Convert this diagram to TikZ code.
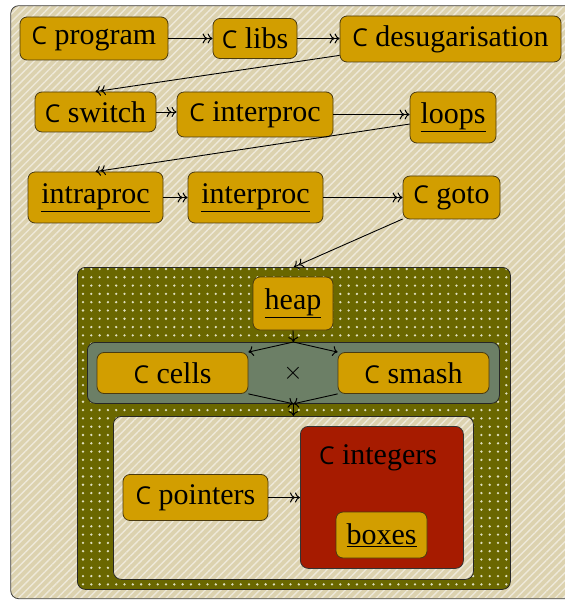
\documentclass[tikz,border=0pt]{standalone}
\usepackage{fontspec}
\setmainfont{Liberation Serif}
\newfontfamily\cfont{Open Sans}[Scale=0.82]
\usetikzlibrary{arrows.meta,patterns.meta}
\definecolor{tanbg}{HTML}{DCD2AF}
\definecolor{stripe}{HTML}{EEE9DA}
\definecolor{gold}{HTML}{D29E00}
\definecolor{goldedge}{HTML}{4A3A10}
\definecolor{olive}{HTML}{6A6700}
\definecolor{dotc}{HTML}{E0E0C0}
\definecolor{graygreen}{HTML}{6C7F66}
\definecolor{redbox}{HTML}{A61B00}
\newcommand{\Cmark}{{\cfont C}}
\tikzset{
  txt/.style={font=\fontsize{30}{34}\selectfont},
  gbox/.style={txt, draw=goldedge, fill=gold, line width=0.8pt, rounded corners=7pt, inner sep=0pt, align=center},
  stripes/.style={preaction={fill=tanbg}, pattern={Lines[angle=45,distance=5.5pt,line width=1.4pt]}, pattern color=stripe},
  dotsfill/.style={preaction={fill=olive}, pattern={Dots[distance=8.3pt,radius=1.3pt]}, pattern color=dotc},
  panel/.style={draw=black!85, line width=0.8pt, rounded corners=8pt, inner sep=0pt},
  tip/.tip={Computer Modern Rightarrow[length=5pt,width=10pt,line width=1pt]},
  conn/.style={draw=black, line width=0.9pt, -{tip}},
  dconn/.style={draw=black, line width=0.9pt, -{tip[]tip[]}},
}
\begin{document}
\begin{tikzpicture}[x=1pt,y=-1pt]
\useasboundingbox (0,0) rectangle (564,601);
% outer frame
\node[panel, stripes, draw=black!75, minimum width=575pt, minimum height=593pt, anchor=north west] (frame) at (10,5) {};
% row 1
\node[gbox, minimum width=148pt, minimum height=43pt] (prog) at (94,38.5) {\Cmark{} program};
\node[gbox, minimum width=84pt, minimum height=40pt] (libs) at (255,38.5) {\Cmark{} libs};
\node[gbox, minimum width=221pt, minimum height=46pt] (desug) at (450.5,39) {\Cmark{} desugarisation};
% row 2
\node[gbox, minimum width=121pt, minimum height=40pt] (switch) at (95.5,112) {\Cmark{} switch};
\node[gbox, minimum width=156pt, minimum height=45pt] (interA) at (255,114.5) {\Cmark{} interproc};
\node[gbox, minimum width=86pt, minimum height=51pt] (loops) at (453,117.5) {\underline{loops}};
% row 3
\node[gbox, minimum width=135pt, minimum height=51pt] (intra) at (95.5,197.5) {\underline{intraproc}};
\node[gbox, minimum width=135pt, minimum height=51pt] (interB) at (255.5,197.5) {\underline{interproc}};
\node[gbox, minimum width=97pt, minimum height=43pt] (goto) at (451.5,197.5) {\Cmark{} goto};
% big olive panel
\node[panel, dotsfill, minimum width=433pt, minimum height=322pt, anchor=north west] (heapbox) at (77,267) {};
\node[gbox, minimum width=80pt, minimum height=53pt] (heap) at (293,303.5) {\underline{heap}};
\node[panel, fill=graygreen, minimum width=412pt, minimum height=61pt, anchor=north west] (prod) at (87,342) {};
\node[gbox, minimum width=151pt, minimum height=41pt] (cells) at (172.5,373) {\Cmark{} cells};
\node[gbox, minimum width=151pt, minimum height=41pt] (smash) at (413.5,373) {\Cmark{} smash};
\node[txt] (times) at (293,373) {$\times$};
\node[panel, stripes, minimum width=360pt, minimum height=163pt, anchor=north west] (inner) at (113,416) {};
\node[gbox, minimum width=145pt, minimum height=46pt] (ptrs) at (195.5,497.5) {\Cmark{} pointers};
\node[panel, fill=redbox, draw=black!80, minimum width=163pt, minimum height=142pt, anchor=north west] (ints) at (300,426) {};
\node[txt] (intlabel) at (378,458) {\Cmark{} integers};
\node[gbox, minimum width=91pt, minimum height=46pt] (boxes) at (381.5,535) {\underline{boxes}};
% connectors
\draw[dconn] (prog.east |- libs) -- (libs.west);
\draw[dconn] (libs.east) -- (libs.east -| desug.west);
\draw[dconn] (desug) -- (switch.north);
\draw[dconn] (switch.east) -- (switch.east -| interA.west);
\draw[dconn] (interA.east) -- (interA.east -| loops.west);
\draw[dconn] (loops) -- (intra.north);
\draw[dconn] (intra.east) -- (interB.west);
\draw[dconn] (interB.east) -- (interB.east -| goto.west);
\draw[dconn] (goto) -- (heapbox.north);
\draw[conn] (heap.south) -- (prod.north);
\draw[conn] (prod.north) -- (cells.north east);
\draw[conn] (prod.north) -- (smash.north west);
\draw[conn] (cells.south east) -- (prod.south);
\draw[conn] (smash.south west) -- (prod.south);
\draw[conn] (prod.south) -- (inner.north);
\draw[dconn] (ptrs.east) -- (ptrs.east -| ints.west);
\end{tikzpicture}
\end{document}
